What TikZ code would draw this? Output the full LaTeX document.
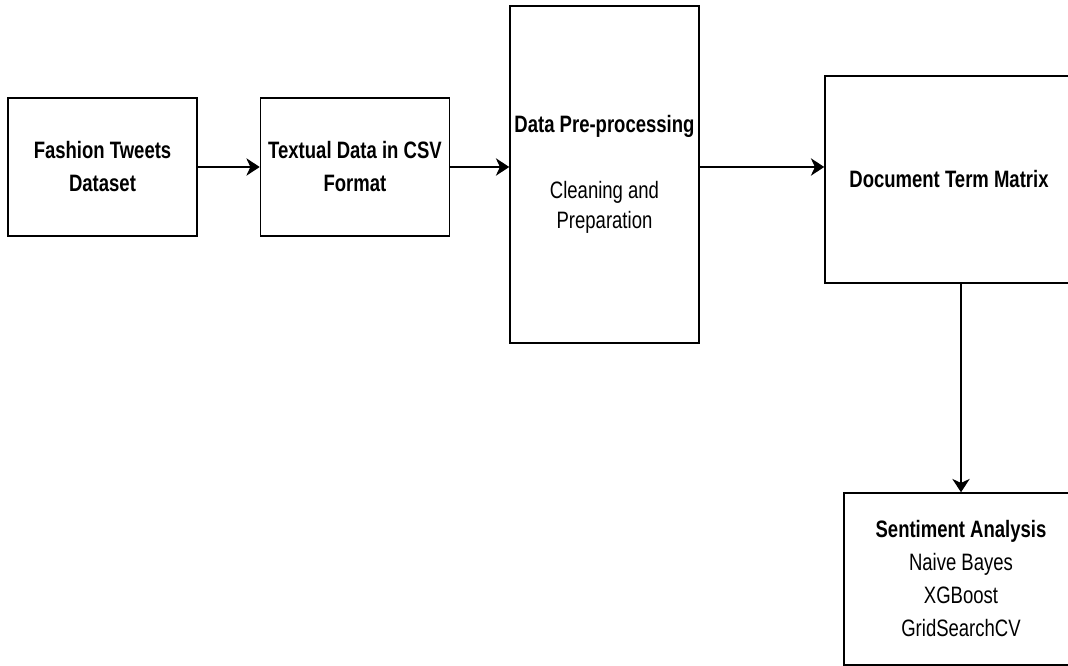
\documentclass[tikz,border=0pt]{standalone}
\usepackage{fontspec}
\setmainfont{Liberation Sans}[FakeStretch=0.78]
\usetikzlibrary{positioning,arrows.meta}

\tikzset{
  block/.style={draw, line width=1.1pt, align=center, inner sep=2pt,
    font=\fontsize{17.8}{24.75}\selectfont},
  flow/.style={-{Stealth[length=10pt,width=13pt,inset=3pt]}, line width=1.4pt}
}

\begin{document}
\begin{tikzpicture}[x=0.75pt, y=-0.75pt]
  \clip (0,0) rectangle (1068,666);

  %Define nodes
  \node[block, minimum width=141.75pt, minimum height=103.5pt] (tweets) at (102.5,167)
    {\textbf{Fashion Tweets}\\\textbf{Dataset}};
  \node[block, minimum width=141.75pt, minimum height=103.5pt, right=46.5pt of tweets] (csv)
    {\textbf{Textual Data in CSV}\\\textbf{Format}};
  \node[block, minimum width=141.75pt, minimum height=252.75pt,
    font=\fontsize{17.8}{22.5}\selectfont] (prep) at (604.5,174.5)
    {\textbf{Data Pre-processing}\\[27pt]Cleaning and\\Preparation};
  \node[block, minimum width=186pt, minimum height=155.25pt] (dtm) at (949,179.5)
    {\textbf{Document Term Matrix}};
  \node[block, minimum width=175.5pt, minimum height=129pt] (sent) at (961,579)
    {\textbf{Sentiment Analysis}\\Naive Bayes\\XGBoost\\GridSearchCV};

  % Connect the nodes
  \draw[flow] (tweets.east) -- (csv.west);
  \draw[flow] (csv.east) -- (csv.east -| prep.west);
  \draw[flow] (csv.east -| prep.east) -- (csv.east -| dtm.west);
  \draw[flow, line width=1.1pt] (sent.north |- dtm.south) -- (sent.north);

\end{tikzpicture}
\end{document}
